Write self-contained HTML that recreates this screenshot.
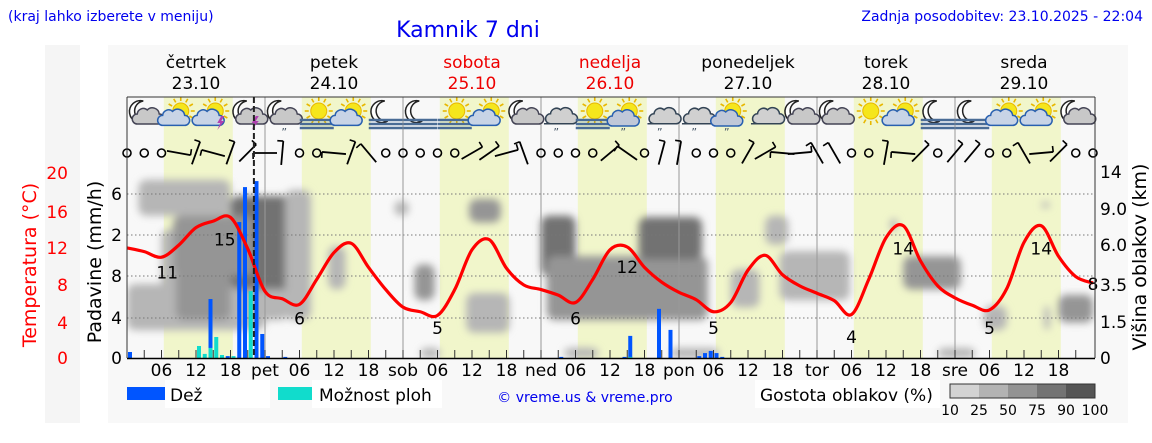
<!DOCTYPE html>
<html><head><meta charset="utf-8">
<style>
html,body{margin:0;padding:0;background:#fff;}
body{width:1152px;height:443px;overflow:hidden;position:relative;font-family:"DejaVu Sans","Liberation Sans",sans-serif;}
svg{position:absolute;left:0;top:0;}
</style></head>
<body>
<svg id="chart" width="1152" height="443" viewBox="0 0 1152 443" xmlns="http://www.w3.org/2000/svg">
<defs>
<filter id="blur" x="-30%" y="-30%" width="160%" height="160%"><feGaussianBlur stdDeviation="4"/></filter>
<clipPath id="plotclip"><rect x="127" y="160" width="968" height="198"/></clipPath>
</defs>
<rect x="45" y="45" width="35" height="378" fill="#f5f5f5"/>
<rect x="108" y="45" width="1020" height="378" fill="#f8f8f8"/>
<g id="bands"></g>
<g id="clouds" clip-path="url(#plotclip)" filter="url(#blur)"></g>
<g id="grid"></g>
<g id="bars"></g>
<g id="icons"></g>
<g id="wind"></g>
<g id="temp"></g>
<g id="axes"></g>
<text x="8" y="21" font-size="14" fill="#0000ee">(kraj lahko izberete v meniju)</text>
<text x="468" y="37" font-size="22" fill="#0000ee" text-anchor="middle">Kamnik 7 dni</text>
<text x="1143" y="21" font-size="14" fill="#0000ee" text-anchor="end">Zadnja posodobitev: 23.10.2025 - 22:04</text>
<text transform="translate(36,265) rotate(-90)" font-size="19" fill="#ff0000" text-anchor="middle">Temperatura (°C)</text>
<text transform="translate(101,262) rotate(-90)" font-size="19" fill="#000" text-anchor="middle">Padavine (mm/h)</text>
<text transform="translate(1146,257) rotate(-90)" font-size="19" fill="#000" text-anchor="middle">Višina oblakov (km)</text>
<g>
<rect x="127" y="387" width="48" height="13" fill="#0055ff"/>
<rect x="165" y="380" width="105" height="28" fill="#fff"/>
<text x="170" y="401" font-size="17">Dež</text>
<rect x="278" y="387" width="34" height="13" fill="#11dccc"/>
<rect x="312" y="380" width="130" height="28" fill="#fff"/>
<text x="319" y="401" font-size="17">Možnost ploh</text>
<text x="585" y="402" font-size="14" fill="#0000ee" text-anchor="middle">© vreme.us &amp; vreme.pro</text>
<rect x="755" y="380" width="185" height="28" fill="#fff"/>
<text x="760" y="401" font-size="17">Gostota oblakov (%)</text>
</g>
<g id="cbar"></g>
</svg>
<script>
const NS="http://www.w3.org/2000/svg";
function mk(tag,attrs,parent){const e=document.createElementNS(NS,tag);for(const k in attrs)e.setAttribute(k,attrs[k]);parent.appendChild(e);return e;}

// ---- data ----
const dayNames=["četrtek","petek","sobota","nedelja","ponedeljek","torek","sreda"];
const dayDates=["23.10","24.10","25.10","26.10","27.10","28.10","29.10"];
const dayWeekend=[false,false,true,true,false,false,false];
const dayShort=["pet","sob","ned","pon","tor","sre"];
const tempHours=[0,3,6,9,12,15,18,21,24,27,30,33,36,39,42,45,48,51,54,57,60,63,66,69,72,75,78,81,84,87,90,93,96,99,102,105,108,111,114,117,120,123,126,129,132,135,138,141,144,147,150,153,156,159,162,165,168];
const tempValues=[11.9,11.5,10.9,12.2,14.1,14.8,15.2,11.8,7.2,6.4,5.8,8.5,11.4,12.4,9.8,7.4,5.5,5.0,4.6,7.4,11.7,12.8,9.7,7.9,7.4,6.8,6.0,8.5,11.7,12.0,9.8,8.2,7.1,6.3,5.0,6.0,9.5,11.1,9.0,7.8,7.0,6.2,4.7,8.5,13.0,14.3,10.5,7.8,6.5,5.7,5.2,7.5,12.5,14.3,11.0,8.8,8.1];
const tempLabelHours=[7,17,30,54,78,87,102,126,135,150,159,168];
const tempLabelTexts=["11","15","6","5","6","12","5","4","14","5","14","8"];
const tempLabelKinds=["min","max","min","min","min","max","min","min","max","min","max","end"];
const rainHours=[0,14,17,19,20,22,23,24,27,75,86,87,92,94,99,100,101,102,103];
const rainValues=[0.22,2.16,0.07,4.98,6.26,6.48,0.88,0.07,0.04,0.04,0.04,0.81,1.8,1.03,0.07,0.18,0.26,0.18,0.04];
const stormHours=[12,13,14,15,16,18,21,87];
const stormValues=[0.44,0.15,0.37,0.77,0.11,0.07,2.45,0.04];
const iconTypes=["mc","sc","st","mt","mr","sf","sc","mf","mf","sf","sc","mc","cr","sf","scr","cr","cr","scr","c","mc","mc","s","sc","mf","mf","sc","sc","mc"];
const windAngles=[null,null,null,-10,70,165,70,45, 180,85,null,null,175,70,130,null, null,null,null,null,30,35,15,110, null,null,null,null,40,145,null,75, 80,null,null,null,60,30,175,5, 120,120,null,null,80,175,45,null, 50,50,null,null,120,5,45,null,null];
// cloud blobs: [startHour,endHour,kmLow,kmHigh,density%]
const cloudStart=[0,6,2,18,8.5,27.5,35,46.5,59.5,50,59,51,72,73,89,76,94.5,111,105,113.5,135,132.7,141,149,159,159.5,162,8];
const cloudEnd=[24,28,18,30,18,32,38,49,65,53.5,66.5,54.5,78,101,100,82,103,115,110,125.7,145,134,147.5,153,160.5,160.5,168,22];
const cloudLow=[1.1,1.5,8,3.2,1.5,1.5,3.2,8,7.5,2.6,1,0,4,1.5,5,0,0,5.9,2.2,2.6,3.2,6.9,0,1.1,8.6,1.1,1.4,4];
const cloudHigh=[3.5,7,12.7,10,5,11,5.8,9.2,9.5,4.7,3,0.4,8,5.2,7.9,0.4,0.4,8,4.4,5.5,5.2,7.8,0.4,2.3,9,2.3,2.9,8];
const cloudDensity=[45,45,40,88,65,45,40,30,70,50,40,40,85,50,78,40,30,25,40,25,55,30,45,25,25,30,60,55];
const kmTicks=["0","1.5","3.5","6.0","9.0","14"];
const kmVals=[0,1.5,3.5,6,9,14];
const precipTickLabels=["0","4","8","2","6"];
const tempTickLabels=["0","4","8","12","16","20"];
const tempTickValues=[0,4,8,12,16,20];
const cbarLabels=["10","25","50","75","90","100"];
const nowHour=22.07;

// ---- scales ----
const X0=127,PXH=5.75,YB=358;
const xh=h=>X0+h*PXH;
const yT=t=>YB-t*9.25;
const yP=v=>YB-v*27.3;
const kmY=[358,320,284,243,202,172];
function yK(k){for(let i=0;i<kmVals.length-1;i++){if(k<=kmVals[i+1]){const f=(k-kmVals[i])/(kmVals[i+1]-kmVals[i]);return kmY[i]+f*(kmY[i+1]-kmY[i]);}}return kmY[kmY.length-1];}
function grey(d){return d<25?"#d6d6d6":d<50?"#b6b6b6":d<75?"#959595":d<90?"#727272":"#555555";}

const bands=document.getElementById("bands");
for(let d=0;d<7;d++){
  const r=mk("rect",{x:xh(d*24+6.4),y:97,width:12*PXH,height:261,fill:"#f1f6cb"},bands);
  
  
}
const cg=document.getElementById("clouds");
for(let i=0;i<cloudStart.length;i++){
  const y1=yK(cloudHigh[i]),y2=yK(cloudLow[i]);
  const r=mk("rect",{x:xh(cloudStart[i]),y:y1,width:(cloudEnd[i]-cloudStart[i])*PXH,height:Math.max(6,y2-y1),rx:8,fill:grey(cloudDensity[i])},cg);
  
  
}
const grid=document.getElementById("grid");
[194,235,276,318].forEach(y=>{
  const l=mk("line",{x1:127,x2:1095,y1:y,y2:y,stroke:"#777","stroke-width":1,"stroke-dasharray":"1.5,2.5"},grid);
  
  
});
for(let d=1;d<7;d++){
  const l=mk("line",{x1:xh(d*24),x2:xh(d*24),y1:97,y2:358,stroke:"#999","stroke-width":1},grid);
  
  
}
const bg=document.getElementById("bars");
rainHours.forEach((h,i)=>{
  const y=yP(rainValues[i]);
  const r=mk("rect",{x:xh(h)+1,y:y,width:4,height:YB-y,fill:"#0055ff"},bg);
  
  
});
stormHours.forEach((h,i)=>{
  const y=yP(stormValues[i]);
  const r=mk("rect",{x:xh(h)+1,y:y,width:4,height:YB-y,fill:"#11dccc"},bg);
  
  
});
const ig=document.getElementById("icons");
function sun(g,cx,cy,r){for(let a=0;a<360;a+=30){const t=a*Math.PI/180;mk("line",{x1:cx+Math.cos(t)*(r+2),y1:cy+Math.sin(t)*(r+2),x2:cx+Math.cos(t)*(r+6),y2:cy+Math.sin(t)*(r+6),stroke:"#e8b800","stroke-width":1.6},g);}mk("circle",{cx:cx,cy:cy,r:r,fill:"#f5e61c",stroke:"#e8b800"},g);}
function moon(g,cx,cy){mk("path",{d:`M${cx+3},${cy-11} A11,11 0 1 0 ${cx+6},${cy+9} A9,9 0 1 1 ${cx+3},${cy-11}Z`,fill:"#fff",stroke:"#222","stroke-width":1.5},g);}
function cloud(g,cx,cy,s,fill,stroke){mk("path",{d:`M${cx-11*s},${cy+6*s} h${22*s} a5,5 0 0 0 0,-10 a7,7 0 0 0 -12,-4 a6,6 0 0 0 -10,4 a5,5 0 0 0 0,10z`,fill:fill,stroke:stroke,"stroke-width":1.5},g);}
function fog(g,cx,cy){[0,4,8].forEach(o=>mk("line",{x1:cx-17,x2:cx+17,y1:cy+o,y2:cy+o,stroke:"#4a6c96","stroke-width":2.5},g));}
function rain(g,cx,cy){mk("text",{x:cx,y:cy,"font-size":11,"text-anchor":"middle",fill:"#456"},g).textContent="\u201D";}
function bolt(g,cx,cy){mk("path",{d:`M${cx+2},${cy} l-4,7 h3 l-3,7 l7,-9 h-3 l3,-5z`,fill:"#b040b0"},g);}
iconTypes.forEach((t,i)=>{
  const cx=xh(3+6*i),cy=114;
  const g=mk("g",{},ig);
  
  
  if(t[0]==="m")moon(g,cx-4,cy-2);
  if(t[0]==="s")sun(g,cx+2,cy-3,8);
  if(t==="mc"||t==="mt"||t==="mr")cloud(g,cx+4,cy+4,1,"#c8c8c8","#445");
  if(t==="sc"||t==="st")cloud(g,cx-4,cy+6,0.9,"#c8d4e6","#2860b0");
  if(t==="st"||t==="mt")bolt(g,cx+6,cy+2);
  if(t==="mr"){rain(g,cx+2,cy+22);}
  if(t==="sf"||t==="mf")fog(g,cx,cy+6);
  if(t==="cr"||t==="c"){cloud(g,cx,cy+2,1.3,"#d0d0d0","#345");}
  if(t==="cr")rain(g,cx-2,cy+22);
  if(t==="scr"){cloud(g,cx-4,cy+6,1,"#c0c8d8","#2860b0");rain(g,cx-4,cy+22);}
});
const wg=document.getElementById("wind");
windAngles.forEach((a,i)=>{
  const cx=xh(3*i),cy=153;
  const g=mk("g",{},wg);
  
  
  if(a===null){mk("circle",{cx:cx,cy:cy,r:4,fill:"none",stroke:"#000","stroke-width":1.6},g);return;}
  const t=a*Math.PI/180,dx=Math.cos(t)*12,dy=-Math.sin(t)*12;
  mk("line",{x1:cx-dx,y1:cy-dy,x2:cx+dx,y2:cy+dy,stroke:"#000","stroke-width":1.8},g);
  mk("line",{x1:cx+dx,y1:cy+dy,x2:cx+dx+Math.cos(t+1.6)*6,y2:cy+dy-Math.sin(t+1.6)*6,stroke:"#000","stroke-width":1.6},g);
});
const tg=document.getElementById("temp");
const pts=tempHours.map((h,i)=>[xh(h),yT(tempValues[i])]);
let d=`M${pts[0][0]},${pts[0][1]}`;
for(let i=0;i<pts.length-1;i++){const p0=pts[Math.max(0,i-1)],p1=pts[i],p2=pts[i+1],p3=pts[Math.min(pts.length-1,i+2)];
d+=` C${p1[0]+(p2[0]-p0[0])/6},${p1[1]+(p2[1]-p0[1])/6} ${p2[0]-(p3[0]-p1[0])/6},${p2[1]-(p3[1]-p1[1])/6} ${p2[0]},${p2[1]}`;}
const tl=mk("path",{d:d,fill:"none",stroke:"#ff0000","stroke-width":3.2,"stroke-linejoin":"round"},tg);


tempLabelHours.forEach((h,i)=>{
  const k=tempLabelKinds[i];
  const t=parseFloat(tempLabelTexts[i]);
  const y=k==="max"?yT(t)+26:k==="min"?yT(t)+22:yT(t)+6;
  const tx=mk("text",{x:xh(h),y:y,"font-size":17,"text-anchor":"middle",fill:"#000"},tg);
  tx.textContent=tempLabelTexts[i];
  
  
});
const ag=document.getElementById("axes");
mk("line",{x1:127,x2:1095,y1:97,y2:97,stroke:"#333"},ag);
mk("line",{x1:127,x2:127,y1:97,y2:358,stroke:"#333"},ag);
mk("line",{x1:1095,x2:1095,y1:97,y2:358,stroke:"#333"},ag);
mk("line",{x1:127,x2:1095,y1:358.5,y2:358.5,stroke:"#000","stroke-width":1.5},ag);
const now=mk("line",{x1:xh(nowHour),x2:xh(nowHour),y1:97,y2:358,stroke:"#222","stroke-width":2,"stroke-dasharray":"6,3"},ag);


for(let h=3;h<168;h+=3){mk("line",{x1:xh(h),x2:xh(h),y1:358,y2:350,stroke:"#333"},ag);}
for(let dd=0;dd<7;dd++){
  const cx=xh(dd*24+12);
  const n=mk("text",{x:cx,y:68,"font-size":17,"text-anchor":"middle",fill:dayWeekend[dd]?"#ee0000":"#000"},ag);
  n.textContent=dayNames[dd];
  
  
  const dt=mk("text",{x:cx,y:89,"font-size":17,"text-anchor":"middle",fill:dayWeekend[dd]?"#ee0000":"#000"},ag);
  dt.textContent=dayDates[dd];
  
  
  ["06","12","18"].forEach((s,j)=>{
    const tx=mk("text",{x:xh(dd*24+6*(j+1)),y:376,"font-size":17,"text-anchor":"middle"},ag);
    tx.textContent=s;
    
    
  });
  if(dd<6){
    const tx=mk("text",{x:xh(dd*24+24),y:376,"font-size":17,"text-anchor":"middle"},ag);
    tx.textContent=dayShort[dd];
    
    
  }
}
[358,318,276,235,194].forEach((y,i)=>{
  const tx=mk("text",{x:122,y:y+6,"font-size":17,"text-anchor":"end"},ag);
  tx.textContent=precipTickLabels[i];
  
  
});
tempTickValues.forEach((v,i)=>{
  const yy=[358,323,285,248,212,173][i];
  const tx=mk("text",{x:68,y:yy+6,"font-size":17,"text-anchor":"end",fill:"#ff0000"},ag);
  tx.textContent=tempTickLabels[i];
  
  
});
kmVals.forEach((k,i)=>{
  const yy=[358,322,285,245,209,172][i];
  const tx=mk("text",{x:1100,y:yy+6,"font-size":17},ag);
  tx.textContent=kmTicks[i];
  
  
});
const cb=document.getElementById("cbar");
const cbCols=["#d3d3d3","#b3b3b3","#939393","#737373","#555555"];
cbCols.forEach((c,i)=>{const r=mk("rect",{x:950+29*i,y:384,width:29,height:14,fill:c},cb);

});
mk("rect",{x:950,y:384,width:145,height:14,fill:"none",stroke:"#333"},cb);
cbarLabels.forEach((s,i)=>{const tx=mk("text",{x:950+29*i,y:415,"font-size":14,"text-anchor":"middle"},cb);
tx.textContent=s;

});
</script>
</body></html>
